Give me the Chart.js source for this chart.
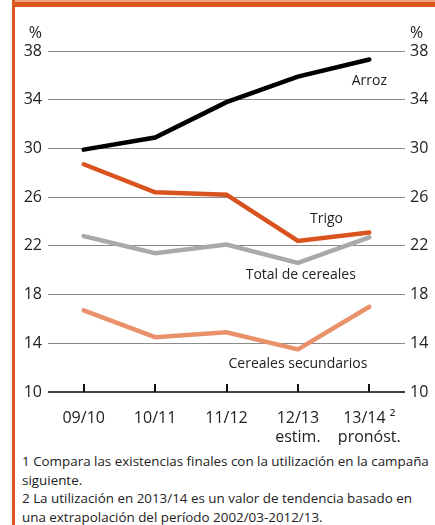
<!DOCTYPE html>
<html>
<head>
<meta charset="utf-8">
<script src="https://cdn.jsdelivr.net/npm/chart.js@4"></script>
<style>
  body { margin: 0; background: #fff; width: 435px; height: 525px; overflow: hidden; position: relative; font-family: 'Open Sans', sans-serif; }
  .topbar { position: absolute; left: 12px; top: 0; width: 423px; height: 7px; background: #dc581f; border-top: 2px solid #eba47e; box-sizing: border-box; }
  .leftbar { position: absolute; left: 12px; top: 0; width: 3px; height: 525px; background: #dc581f; }
  .chart-wrapper { position: absolute; left: 0; top: 0; width: 435px; height: 445px; }
  .notes { position: absolute; left: 22px; top: 452px; width: 420px; font-size: 13.4px; line-height: 18.5px; color: #222; white-space: nowrap; }
</style>
</head>
<body>
<div class="topbar"></div>
<div class="leftbar"></div>
<div class="chart-wrapper"><canvas id="chart" width="435" height="445"></canvas></div>
<div class="notes">
  1 Compara las existencias finales con la utilización en la campaña<br>
  siguiente.<br>
  2 La utilización en 2013/14 es un valor de tendencia basado en<br>
  una extrapolación del período 2002/03-2012/13.
</div>
<script>
// Campaigns on the x axis
const categories = [["09/10"], ["10/11"], ["11/12"], ["12/13", "estim."], ["13/14 ²", "pronóst."]];

// Stock-to-use ratios (%)
const arroz = [29.9, 30.9, 33.8, 35.9, 37.3];
const trigo = [28.7, 26.4, 26.2, 22.4, 23.1];
const totalCereales = [22.8, 21.4, 22.1, 20.6, 22.7];
const cerealesSecundarios = [16.7, 14.5, 14.9, 13.5, 17.0];

const yTicks = [10, 14, 18, 22, 26, 30, 34, 38];

// Series name tags placed next to the lines (category index, value)
const seriesTags = [
  { text: "Arroz", x: 4, y: 35.5 },
  { text: "Trigo", x: 3.4, y: 24.2 },
  { text: "Total de cereales", x: 3.04, y: 19.6 },
  { text: "Cereales secundarios", x: 3.0, y: 12.3 }
];

const font = "'Open Sans', sans-serif";

const decorations = {
  id: "decorations",
  afterDraw(chart) {
    const { ctx, chartArea, scales } = chart;
    const x = scales.x, y = scales.y;
    ctx.save();
    // baseline
    ctx.strokeStyle = "#444";
    ctx.lineWidth = 2;
    ctx.beginPath();
    ctx.moveTo(chartArea.left, y.getPixelForValue(10));
    ctx.lineTo(chartArea.right, y.getPixelForValue(10));
    ctx.stroke();
    // upward tick marks at the categories
    ctx.strokeStyle = "#111";
    ctx.lineWidth = 2;
    categories.forEach((c, i) => {
      const px = Math.round(x.getPixelForValue(i));
      ctx.beginPath();
      ctx.moveTo(px, y.getPixelForValue(10));
      ctx.lineTo(px, y.getPixelForValue(10) - 8);
      ctx.stroke();
    });
    // % units
    ctx.fillStyle = "#222";
    ctx.font = "16px " + font;
    ctx.textBaseline = "middle";
    ctx.textAlign = "right";
    ctx.fillText("%", 42, 33);
    ctx.textAlign = "left";
    ctx.fillText("%", 410, 33);
    // series tags
    ctx.font = "14px " + font;
    ctx.textAlign = "center";
    seriesTags.forEach((t) => {
      const px = x.getPixelForValue(0) + t.x * (x.getPixelForValue(1) - x.getPixelForValue(0));
      ctx.fillText(t.text, px, y.getPixelForValue(t.y));
    });
    ctx.restore();
  }
};

const ctx = document.getElementById("chart").getContext("2d");

new Chart(ctx, {
  type: "line",
  data: {
    labels: categories,
    datasets: [
      { label: "Arroz", data: arroz, borderColor: "#000000" },
      { label: "Trigo", data: trigo, borderColor: "#d9531e" },
      { label: "Total de cereales", data: totalCereales, borderColor: "#a9a9ac" },
      { label: "Cereales secundarios", data: cerealesSecundarios, borderColor: "#e8916a" }
    ].map((d) => Object.assign(d, { borderWidth: 4.5, pointRadius: 0, tension: 0, fill: false, borderCapStyle: "round" }))
  },
  options: {
    responsive: false,
    animation: false,
    layout: { padding: { top: 51, left: 0, right: 0, bottom: 0 } },
    plugins: { legend: { display: false }, tooltip: { enabled: false } },
    scales: {
      x: {
        offset: true,
        grid: { display: false },
        border: { display: false },
        ticks: { color: "#222", font: { size: 16, family: font }, padding: 9, maxRotation: 0 },
        afterFit(scale) { scale.height = 53; }
      },
      y: {
        position: "left",
        min: 10,
        max: 38,
        afterBuildTicks(scale) { scale.ticks = yTicks.map((v) => ({ value: v })); },
        grid: { color: "#8a8a8a", lineWidth: 1, drawTicks: false },
        border: { display: false },
        ticks: { color: "#222", font: { size: 16, family: font }, padding: 6 },
        afterFit(scale) { scale.width = 48; }
      },
      y2: {
        position: "right",
        min: 10,
        max: 38,
        afterBuildTicks(scale) { scale.ticks = yTicks.map((v) => ({ value: v })); },
        grid: { display: false, drawTicks: false },
        border: { display: false },
        ticks: { color: "#222", font: { size: 16, family: font }, padding: 5 },
        afterFit(scale) { scale.width = 30; }
      }
    }
  },
  plugins: [decorations]
});
</script>
</body>
</html>
